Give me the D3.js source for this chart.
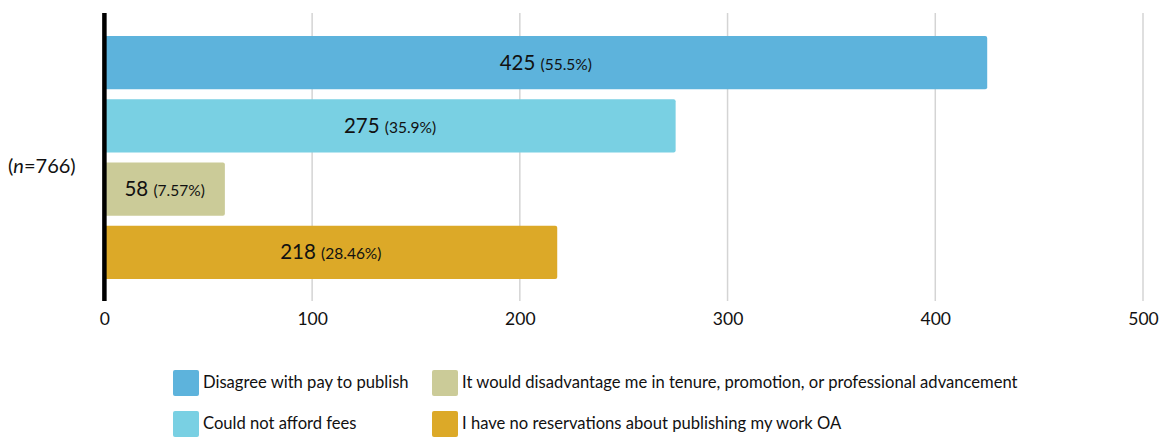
<!DOCTYPE html>
<html>
<head>
<meta charset="utf-8">
<script src="https://cdn.jsdelivr.net/npm/d3@7"></script>
<style>
body{margin:0;background:#fff;}
text{font-family:Lato,"Open Sans",sans-serif;fill:#111;}
</style>
</head>
<body>
<div id="chart"></div>
<script>
// data
var categories = [
    "Disagree with pay to publish",
    "Could not afford fees",
    "It would disadvantage me in tenure, promotion, or professional advancement",
    "I have no reservations about publishing my work OA"
]
var counts = [425, 275, 58, 218]
var percents = ["55.5%", "35.9%", "7.57%", "28.46%"]
var colors = ["#5db3dc", "#79d0e3", "#cbcb98", "#dca928"]
var ticks = [0, 100, 200, 300, 400, 500]
var sampleLabel = "766"

var width = 1164
var height = 437

var svg = d3.select("#chart")
    .append("svg")
    .attr("width", width)
    .attr("height", height)

var x = d3.scaleLinear()
    .domain([0, 500])
    .range([104.4, 1143])

var y = d3.scaleBand()
    .domain(categories)
    .range([31, 284])
    .paddingInner(0.16)
    .paddingOuter(0.08)

// gridlines
svg.append("g")
    .selectAll("line")
    .data(ticks.slice(1))
    .join("line")
    .attr("x1", d => x(d))
    .attr("x2", d => x(d))
    .attr("y1", 13)
    .attr("y2", 301)
    .style("stroke", "#d4d4d4")
    .style("stroke-width", 1.5)

// x axis labels
var xAxis = d3.axisBottom(x).tickValues(ticks).tickSize(0).tickPadding(0)
var gx = svg.append("g")
    .attr("transform", "translate(0,313)")
    .call(xAxis)
gx.select(".domain").remove()
gx.selectAll("text")
    .style("font-family", "Lato, 'Open Sans', sans-serif")
    .style("font-size", "17.5px")
    .style("fill", "#111")

// bars
var bars = svg.append("g")
    .selectAll("g")
    .data(categories)
    .join("g")

bars.append("rect")
    .attr("x", x(0))
    .attr("y", d => y(d))
    .attr("width", (d, i) => x(counts[i]) - x(0))
    .attr("height", y.bandwidth())
    .attr("rx", 2)
    .style("fill", (d, i) => colors[i])

var lbl = bars.append("text")
    .attr("x", (d, i) => (x(0) + x(counts[i])) / 2)
    .attr("y", d => y(d) + y.bandwidth() / 2 + 7)
    .attr("text-anchor", "middle")
lbl.append("tspan")
    .style("font-size", "20.5px")
    .text((d, i) => counts[i] + " ")
lbl.append("tspan")
    .style("font-size", "15.5px")
    .text((d, i) => "(" + percents[i] + ")")

// axis line
svg.append("line")
    .attr("x1", x(0))
    .attr("x2", x(0))
    .attr("y1", 13)
    .attr("y2", 301)
    .style("stroke", "#000")
    .style("stroke-width", 4.5)

// n label
var nl = svg.append("text")
    .attr("x", 8)
    .attr("y", 173)
    .style("font-size", "20px")
nl.append("tspan").text("(")
nl.append("tspan").style("font-style", "italic").text("n")
nl.append("tspan").text("=" + sampleLabel + ")")

// legend
var legendX = [173, 432]
var legendY = [370, 411]
var legend = svg.append("g")
    .selectAll("g")
    .data(categories)
    .join("g")
    .attr("transform", (d, i) => "translate(" + legendX[Math.floor(i / 2)] + "," + legendY[i % 2] + ")")

legend.append("rect")
    .attr("width", 26)
    .attr("height", 26)
    .attr("rx", 2)
    .style("fill", (d, i) => colors[i])

legend.append("text")
    .attr("x", 30)
    .attr("y", 18)
    .style("font-size", "16.6px")
    .text(d => d)
</script>
</body>
</html>
